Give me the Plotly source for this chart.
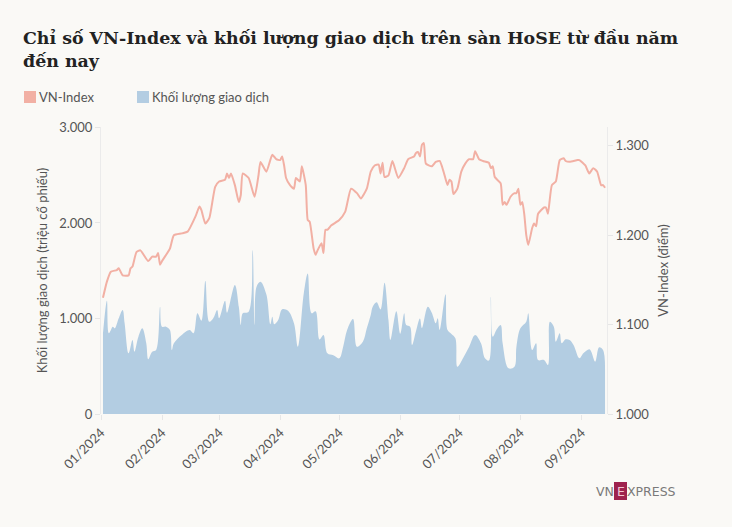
import plotly.graph_objects as go

# VN-Index (points)
idx_dates = ["2024-01-02","2024-01-04","2024-01-06","2024-01-09","2024-01-10","2024-01-12","2024-01-15","2024-01-16","2024-01-17","2024-01-19","2024-01-21","2024-01-25","2024-01-27","2024-01-29","2024-01-30","2024-01-31",
             "2024-02-01","2024-02-05","2024-02-07","2024-02-11","2024-02-14","2024-02-18","2024-02-20","2024-02-21","2024-02-23","2024-02-25","2024-02-28",
             "2024-03-01","2024-03-04","2024-03-05","2024-03-06","2024-03-07","2024-03-09","2024-03-11","2024-03-12","2024-03-13","2024-03-16","2024-03-19","2024-03-21","2024-03-22","2024-03-25","2024-03-28","2024-03-30",
             "2024-04-01","2024-04-02","2024-04-03","2024-04-04","2024-04-06","2024-04-08","2024-04-09","2024-04-11","2024-04-12","2024-04-14","2024-04-15","2024-04-16","2024-04-18","2024-04-19","2024-04-20","2024-04-22","2024-04-23","2024-04-24","2024-04-25","2024-04-27",
             "2024-05-01","2024-05-04","2024-05-07","2024-05-10","2024-05-12","2024-05-15","2024-05-17","2024-05-19","2024-05-21","2024-05-22","2024-05-23","2024-05-24","2024-05-26","2024-05-28","2024-05-31",
             "2024-06-03","2024-06-05","2024-06-08","2024-06-09","2024-06-10","2024-06-11","2024-06-12","2024-06-13","2024-06-14","2024-06-17","2024-06-19","2024-06-21","2024-06-23","2024-06-25","2024-06-26","2024-06-27","2024-06-28","2024-06-30",
             "2024-07-02","2024-07-04","2024-07-06","2024-07-08","2024-07-09","2024-07-11","2024-07-13","2024-07-16","2024-07-17","2024-07-18","2024-07-19","2024-07-22","2024-07-23","2024-07-24","2024-07-25","2024-07-27","2024-07-29","2024-07-30","2024-07-31",
             "2024-08-01","2024-08-02","2024-08-03","2024-08-04","2024-08-05","2024-08-07","2024-08-08","2024-08-09","2024-08-10","2024-08-13","2024-08-14","2024-08-15","2024-08-17","2024-08-19","2024-08-21","2024-08-23","2024-08-24","2024-08-26","2024-08-30","2024-08-31",
             "2024-09-03","2024-09-05","2024-09-07","2024-09-09","2024-09-11","2024-09-12","2024-09-13"]
idx_values = [1130,1148,1159,1161,1163,1155,1155,1163,1165,1181,1183,1171,1176,1176,1180,1167,
              1171,1185,1200,1202,1204,1221,1232,1228,1213,1219,1254,
              1260,1262,1269,1264,1269,1256,1237,1245,1269,1264,1243,1267,1282,1271,1290,1285,
              1284,1288,1278,1264,1256,1252,1264,1260,1277,1256,1217,1215,1185,1178,1183,1191,1180,1206,1206,1211,
              1217,1226,1252,1247,1241,1252,1271,1278,1279,1269,1281,1265,1267,1283,1264,
              1275,1285,1288,1292,1293,1288,1301,1303,1280,1277,1282,1283,1271,1256,1262,1260,1246,1252,
              1271,1280,1285,1285,1294,1285,1283,1281,1275,1277,1265,1258,1234,1237,1234,1243,1247,1247,1252,
              1234,1237,1223,1200,1189,1208,1213,1210,1224,1231,1231,1224,1256,1260,1284,1286,1283,1282,1284,1284,
              1278,1269,1275,1271,1256,1256,1253]

# Trading volume (million shares)
vol_dates = ["2024-01-02","2024-01-04","2024-01-05","2024-01-07","2024-01-08","2024-01-10","2024-01-12","2024-01-13","2024-01-15","2024-01-17","2024-01-18","2024-01-20","2024-01-22","2024-01-24","2024-01-25","2024-01-27","2024-01-29","2024-01-31",
             "2024-02-01","2024-02-03","2024-02-05","2024-02-06","2024-02-07","2024-02-11","2024-02-15","2024-02-17","2024-02-19","2024-02-21","2024-02-23","2024-02-25","2024-02-27","2024-02-29",
             "2024-03-01","2024-03-04","2024-03-05","2024-03-09","2024-03-11","2024-03-12","2024-03-13","2024-03-16","2024-03-18","2024-03-19","2024-03-20","2024-03-22","2024-03-25","2024-03-27","2024-03-28","2024-03-29","2024-03-31",
             "2024-04-02","2024-04-05","2024-04-08","2024-04-10","2024-04-13","2024-04-15","2024-04-17","2024-04-19","2024-04-21","2024-04-23","2024-04-25","2024-04-28",
             "2024-05-01","2024-05-03","2024-05-05","2024-05-08","2024-05-10","2024-05-13","2024-05-15","2024-05-17","2024-05-18","2024-05-20","2024-05-22","2024-05-24","2024-05-26","2024-05-27","2024-05-30",
             "2024-06-01","2024-06-03","2024-06-04","2024-06-06","2024-06-07","2024-06-09","2024-06-11","2024-06-12","2024-06-15","2024-06-17","2024-06-19","2024-06-20","2024-06-21","2024-06-24","2024-06-25","2024-06-27","2024-06-29","2024-06-30",
             "2024-07-03","2024-07-06","2024-07-09","2024-07-12","2024-07-14","2024-07-16","2024-07-17","2024-07-18","2024-07-20","2024-07-22","2024-07-23","2024-07-26","2024-07-29","2024-07-30",
             "2024-08-01","2024-08-04","2024-08-05","2024-08-07","2024-08-09","2024-08-10","2024-08-13","2024-08-15","2024-08-16","2024-08-18","2024-08-19","2024-08-21","2024-08-22","2024-08-24","2024-08-26","2024-08-28","2024-08-31",
             "2024-09-02","2024-09-05","2024-09-06","2024-09-08","2024-09-10","2024-09-12","2024-09-13"]
vol_values = [845,1186,845,914,897,1002,1089,950,635,775,652,809,897,740,573,652,670,1123,
              914,914,879,670,740,827,879,845,1054,977,1396,966,1002,1089,
              1002,1186,1061,1351,1123,932,1054,1071,1717,932,1333,1385,1250,940,1019,940,984,
              1096,1080,950,705,1264,1470,1054,1075,780,827,635,615,
              583,705,879,995,705,757,897,1037,1123,1170,1095,1375,984,775,1075,
              840,1054,932,914,723,870,1000,900,1123,1060,950,1002,879,1253,879,838,792,495,
              590,705,827,740,583,560,1228,809,887,932,740,478,495,705,
              897,966,1054,670,740,565,565,513,966,914,757,845,740,782,775,723,583,
              635,677,652,548,698,670,478]

left_ticks = [0, 1000, 2000, 3000]
right_ticks = [1000, 1100, 1200, 1300]

LINE_COLOR = "#f2b0a4"
AREA_COLOR = "#b3cde2"
BG = "#faf9f6"
TXT = "#555555"
FONT = "Lato"

fig = go.Figure()
fig.add_trace(go.Scatter(x=vol_dates, y=vol_values, mode="lines", fill="tozeroy",
                         fillcolor=AREA_COLOR, line=dict(width=0, color=AREA_COLOR, shape="spline", smoothing=1),
                         name="Khối lượng giao dịch", yaxis="y", showlegend=False))
fig.add_trace(go.Scatter(x=idx_dates, y=idx_values, mode="lines",
                         line=dict(width=2, color=LINE_COLOR, shape="spline", smoothing=0.5),
                         name="VN-Index", yaxis="y2", showlegend=False))

fig.update_layout(
    width=732, height=527,
    paper_bgcolor=BG, plot_bgcolor=BG,
    margin=dict(l=101, r=125, t=127, b=113),
    separators=",.",
    font=dict(family=FONT, size=13, color=TXT),
    xaxis=dict(type="date", range=["2024-01-01", "2024-09-14"], dtick="M1", tick0="2024-01-01",
               tickformat="%m/%Y", tickangle=-45, showgrid=False, zeroline=False,
               ticks="outside", ticklen=5, tickcolor="#e6e6e6", showline=False,
               tickfont=dict(family=FONT, size=13, color=TXT)),
    yaxis=dict(range=[0, 3005], tickvals=left_ticks, tickformat=",d", showgrid=False, zeroline=False,
               showline=True, linecolor="#ebebeb", linewidth=1, ticks="outside", ticklen=5, tickcolor="#e6e6e6",
               title=dict(text="Khối lượng giao dịch (triệu cổ phiếu)", font=dict(size=13, color=TXT), standoff=8),
               tickfont=dict(family=FONT, size=13, color=TXT)),
    yaxis2=dict(range=[1000, 1321], tickvals=right_ticks, tickformat=",d", overlaying="y", side="right",
                showgrid=False, zeroline=False, showline=True, linecolor="#ebebeb", linewidth=1,
                ticks="outside", ticklen=5, tickcolor="#e6e6e6",
                title=dict(text="VN-Index (điểm)", font=dict(size=13, color=TXT), standoff=10),
                tickfont=dict(family=FONT, size=13, color=TXT)),
)


def px_x(px):
    return (px - 101) / 506


def px_y(py):
    return 1 + (127 - py) / 287


# Title
TITLE_FONT = dict(family="DejaVu Serif", size=17.4, color="#222222")
fig.add_annotation(xref="paper", yref="paper", x=px_x(21), y=px_y(38), xanchor="left", yanchor="middle",
                   text="<b>Chỉ số VN-Index và khối lượng giao dịch trên sàn HoSE từ đầu năm</b>",
                   showarrow=False, font=TITLE_FONT)
fig.add_annotation(xref="paper", yref="paper", x=px_x(21), y=px_y(61), xanchor="left", yanchor="middle",
                   text="<b>đến nay</b>", showarrow=False, font=TITLE_FONT)

# Legend
legend_items = [("VN-Index", LINE_COLOR, 24), ("Khối lượng giao dịch", AREA_COLOR, 137)]
for name, col, lx in legend_items:
    fig.add_shape(type="rect", xref="paper", yref="paper", x0=px_x(lx), x1=px_x(lx + 12),
                  y0=px_y(103), y1=px_y(91), fillcolor=col, line=dict(width=0), layer="above")
    fig.add_annotation(xref="paper", yref="paper", x=px_x(lx + 13), y=px_y(97), xanchor="left", yanchor="middle",
                       text=name, showarrow=False, font=dict(family=FONT, size=13, color=TXT))

# VnExpress logo
LOGO_FONT = dict(family="DejaVu Sans", size=12.5, color="#7a7a7a")
fig.add_annotation(xref="paper", yref="paper", x=px_x(616), y=px_y(491), xanchor="right", yanchor="middle",
                   text="VN", showarrow=False, font=LOGO_FONT)
fig.add_shape(type="rect", xref="paper", yref="paper", x0=px_x(614), x1=px_x(627), y0=px_y(500), y1=px_y(482),
              fillcolor="#9f224e", line=dict(width=0))
fig.add_annotation(xref="paper", yref="paper", x=px_x(620.5), y=px_y(491), xanchor="center", yanchor="middle",
                   text="E", showarrow=False, font=dict(family="DejaVu Sans", size=12.5, color="#f3c5d4"))
fig.add_annotation(xref="paper", yref="paper", x=px_x(625), y=px_y(491), xanchor="left", yanchor="middle",
                   text="XPRESS", showarrow=False, font=LOGO_FONT)

fig.write_html("out.html", config={"displayModeBar": False},
               post_script="document.body.style.margin='0';document.body.style.background='#faf9f6';")
